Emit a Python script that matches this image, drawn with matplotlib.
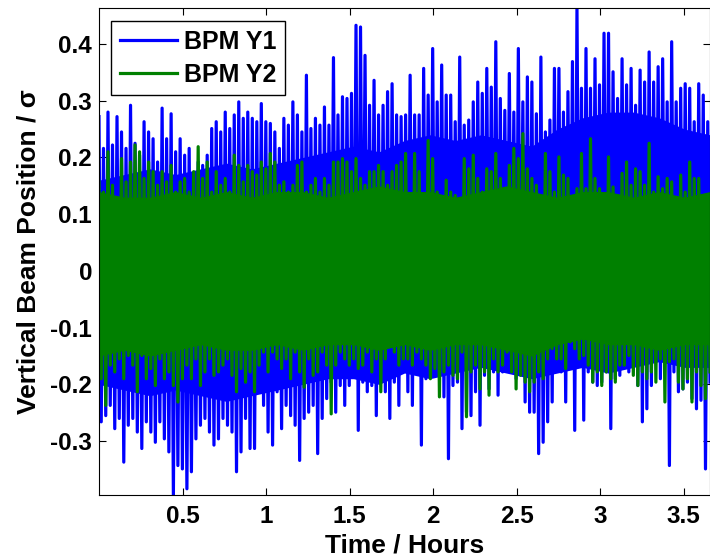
### BPM vertical position vs time
import numpy as np
import matplotlib
matplotlib.use('Agg')
import matplotlib.pyplot as plt

# peaks (hi) and troughs (lo), left to right
y1_hi = [0.272, 0.216, 0.280, 0.222, 0.272, 0.245, 0.216, 0.292, 0.225, 0.204, 0.263, 0.245, 0.233, 0.192, 0.287, 0.233, 0.277,
         0.210, 0.233, 0.204, 0.216, 0.169, 0.192, 0.186, 0.204, 0.251, 0.263, 0.245, 0.280, 0.251, 0.275, 0.298, 0.269, 0.280,
         0.269, 0.263, 0.295, 0.263, 0.260, 0.245, 0.216, 0.269, 0.257, 0.298, 0.275, 0.245, 0.345, 0.251, 0.269, 0.257, 0.289,
         0.257, 0.376, 0.275, 0.307, 0.304, 0.313, 0.433, 0.430, 0.380, 0.292, 0.336, 0.275, 0.292, 0.316, 0.330, 0.275, 0.272,
         0.275, 0.345, 0.275, 0.275, 0.357, 0.310, 0.392, 0.298, 0.363, 0.310, 0.310, 0.263, 0.377, 0.257, 0.266, 0.298, 0.333,
         0.313, 0.357, 0.324, 0.404, 0.304, 0.283, 0.348, 0.280, 0.392, 0.298, 0.342, 0.333, 0.277, 0.377, 0.245, 0.266, 0.357,
         0.357, 0.280, 0.316, 0.369, 0.463, 0.322, 0.392, 0.322, 0.374, 0.328, 0.419, 0.419, 0.351, 0.304, 0.374, 0.328, 0.357,
         0.292, 0.354, 0.333, 0.386, 0.333, 0.360, 0.374, 0.298, 0.404, 0.298, 0.322, 0.330, 0.322, 0.263, 0.330, 0.310, 0.263]
y1_lo = [-0.266, -0.255, -0.237, -0.278, -0.260, -0.337, -0.272, -0.260, -0.284, -0.313, -0.266, -0.284, -0.302, -0.266,
         -0.296, -0.319, -0.396, -0.343, -0.349, -0.384, -0.354, -0.296, -0.272, -0.260, -0.284, -0.307, -0.296, -0.260,
         -0.272, -0.284, -0.354, -0.319, -0.260, -0.313,
         -0.313, -0.213, -0.237, -0.284, -0.307, -0.213, -0.278, -0.237, -0.255, -0.272, -0.334, -0.260, -0.249, -0.237,
         -0.322, -0.260, -0.225, -0.196, -0.249, -0.202, -0.237, -0.202, -0.178, -0.281, -0.196, -0.213, -0.202, -0.255,
         -0.196, -0.213, -0.260, -0.196, -0.237, -0.172,
         -0.213, -0.237, -0.178, -0.307, -0.190, -0.160, -0.178, -0.166, -0.222, -0.331, -0.202, -0.196, -0.278, -0.249,
         -0.255, -0.213, -0.272, -0.184, -0.208, -0.178, -0.219, -0.178, -0.166, -0.149, -0.190, -0.149, -0.231, -0.249,
         -0.249, -0.322, -0.302, -0.266, -0.231, -0.166,
         -0.178, -0.231, -0.155, -0.281, -0.155, -0.263, -0.178, -0.196, -0.202, -0.196, -0.178, -0.278, -0.190, -0.184,
         -0.166, -0.178, -0.155, -0.202, -0.266, -0.243, -0.202, -0.155, -0.190, -0.160, -0.343, -0.178, -0.213, -0.208,
         -0.196, -0.225, -0.243, -0.228, -0.349, -0.196]

y2_hi = [0.157, 0.139, 0.210, 0.151, 0.116, 0.198, 0.157, 0.192, 0.222, 0.210, 0.163, 0.192, 0.175, 0.151, 0.175, 0.157, 0.186,
         0.139, 0.157, 0.163, 0.139, 0.175, 0.219, 0.163, 0.192, 0.139, 0.175, 0.151, 0.163, 0.139, 0.204, 0.186, 0.157, 0.186,
         0.175, 0.169, 0.192, 0.180, 0.207, 0.192, 0.151, 0.157, 0.139, 0.151, 0.186, 0.192, 0.139, 0.151, 0.163, 0.139, 0.163,
         0.151, 0.192, 0.192, 0.198, 0.192, 0.175, 0.198, 0.163, 0.151, 0.175, 0.175, 0.186, 0.175, 0.151, 0.175, 0.186, 0.192,
         0.207, 0.128, 0.207, 0.175, 0.122, 0.230, 0.198, 0.139, 0.128, 0.160, 0.139, 0.133, 0.116, 0.198, 0.180, 0.204, 0.163,
         0.139, 0.180, 0.175, 0.207, 0.163, 0.128, 0.186, 0.216, 0.198, 0.242, 0.180, 0.163, 0.151, 0.116, 0.207, 0.175, 0.139,
         0.201, 0.169, 0.163, 0.122, 0.145, 0.207, 0.145, 0.233, 0.163, 0.145, 0.122, 0.201, 0.148, 0.133, 0.172, 0.192, 0.151,
         0.180, 0.175, 0.151, 0.225, 0.139, 0.166, 0.145, 0.163, 0.157, 0.116, 0.169, 0.139, 0.192, 0.163, 0.163, 0.128, 0.133]
y2_lo = [-0.190, -0.237, -0.166, -0.178, -0.155, -0.190, -0.149, -0.166, -0.213, -0.149, -0.190, -0.172, -0.202, -0.155,
         -0.190, -0.178, -0.202, -0.231, -0.190, -0.166, -0.190, -0.155, -0.202, -0.178, -0.155, -0.184, -0.178, -0.166,
         -0.155, -0.184, -0.213, -0.172, -0.196, -0.178,
         -0.213, -0.166, -0.143, -0.178, -0.143, -0.155, -0.172, -0.155, -0.190, -0.143, -0.178, -0.205, -0.155, -0.184,
         -0.178, -0.143, -0.166, -0.252, -0.166, -0.143, -0.155, -0.166, -0.155, -0.172, -0.166, -0.143, -0.178, -0.155,
         -0.213, -0.155, -0.131, -0.143, -0.166, -0.155,
         -0.155, -0.166, -0.143, -0.155, -0.166, -0.190, -0.172, -0.222, -0.178, -0.166, -0.184, -0.190, -0.143, -0.257,
         -0.178, -0.166, -0.208, -0.178, -0.219, -0.155, -0.178, -0.166, -0.143, -0.178, -0.208, -0.184, -0.196, -0.213,
         -0.196, -0.178, -0.190, -0.155, -0.137, -0.155,
         -0.155, -0.172, -0.125, -0.137, -0.155, -0.149, -0.166, -0.196, -0.178, -0.202, -0.178, -0.190, -0.196, -0.166,
         -0.166, -0.149, -0.184, -0.202, -0.178, -0.190, -0.178, -0.196, -0.155, -0.231, -0.160, -0.155, -0.196, -0.208,
         -0.190, -0.231, -0.178, -0.202, -0.225, -0.178]

# solid core of each trace (level where the band stops being spiky), every ~0.15 h
y1_core_hi = [0.16, 0.17, 0.18, 0.17, 0.18, 0.19, 0.18, 0.19, 0.20, 0.21, 0.22, 0.21, 0.23,
              0.24, 0.23, 0.24, 0.23, 0.22, 0.25, 0.27, 0.28, 0.28, 0.27, 0.25, 0.24]
y1_core_lo = [-0.20, -0.21, -0.22, -0.21, -0.22, -0.23, -0.22, -0.21, -0.20, -0.19, -0.19, -0.20, -0.18,
              -0.19, -0.18, -0.17, -0.18, -0.19, -0.18, -0.17, -0.18, -0.17, -0.16, -0.17, -0.17]
y2_core_hi = [0.14, 0.13, 0.13, 0.14, 0.13, 0.14, 0.13, 0.14, 0.14, 0.13, 0.14, 0.15, 0.14,
              0.14, 0.13, 0.14, 0.15, 0.14, 0.13, 0.14, 0.14, 0.13, 0.14, 0.13, 0.14]
y2_core_lo = [-0.15, -0.14, -0.15, -0.14, -0.13, -0.14, -0.14, -0.13, -0.14, -0.13, -0.13, -0.14, -0.13,
              -0.14, -0.13, -0.13, -0.14, -0.15, -0.13, -0.12, -0.13, -0.13, -0.14, -0.13, -0.13]

t_end = 3.657  # hours
xticks = [0.5, 1, 1.5, 2, 2.5, 3, 3.5]
xticklabels = ['0.5', '1', '1.5', '2', '2.5', '3', '3.5']
yticks = [-0.3, -0.2, -0.1, 0, 0.1, 0.2, 0.3, 0.4]
yticklabels = ['-0.3', '-0.2', '-0.1', '0', '0.1', '0.2', '0.3', '0.4']

blue = (0, 0, 1)
green = (0, 0.5, 0)

# interleave peaks and troughs into one trace per BPM
y1 = np.column_stack([y1_hi, y1_lo]).ravel()
y2 = np.column_stack([y2_hi, y2_lo]).ravel()
t1 = np.linspace(0, t_end, len(y1))
t2 = np.linspace(0, t_end, len(y2))
tc = np.linspace(0, t_end, len(y1_core_hi))

plt.rcParams['font.family'] = ['Liberation Sans', 'DejaVu Sans']
plt.rcParams['font.weight'] = 'bold'

fig = plt.figure(figsize=(7.1, 5.56), dpi=100)
ax = fig.add_axes([0.1394, 0.1097, 0.8606, 0.8759])
# same zorder for all so Y2 sits fully on top of Y1
ax.fill_between(tc, y1_core_lo, y1_core_hi, color=blue, lw=0, zorder=2)
ax.plot(t1, y1, color=blue, lw=2.3, label='BPM Y1', zorder=2)
ax.fill_between(tc, y2_core_lo, y2_core_hi, color=green, lw=0, zorder=2)
ax.plot(t2, y2, color=green, lw=2.3, label='BPM Y2', zorder=2)

ax.set_xlim(0, t_end)
ax.set_ylim(-0.395, 0.4635)
ax.set_xticks(xticks)
ax.set_xticklabels(xticklabels)
ax.set_yticks(yticks)
ax.set_yticklabels(yticklabels)
ax.tick_params(direction='in', top=True, right=True, length=5, width=0.8, labelsize=17.5)
ax.tick_params(axis='x', pad=7)
ax.tick_params(axis='y', pad=5)
ax.set_xlabel('Time / Hours', fontsize=19, fontweight='bold', labelpad=4)
ax.set_ylabel('Vertical Beam Position / σ', fontsize=19, fontweight='bold', labelpad=7)

leg = ax.legend(loc='upper left', bbox_to_anchor=(0.0197, 0.973), borderaxespad=0, fontsize=18,
                fancybox=False, framealpha=1, edgecolor='black', handlelength=2.3, borderpad=0.35,
                labelspacing=0.35, handletextpad=0.25)
leg.get_frame().set_linewidth(1)
leg.set_zorder(5)

fig.savefig('out.png', dpi=100)
